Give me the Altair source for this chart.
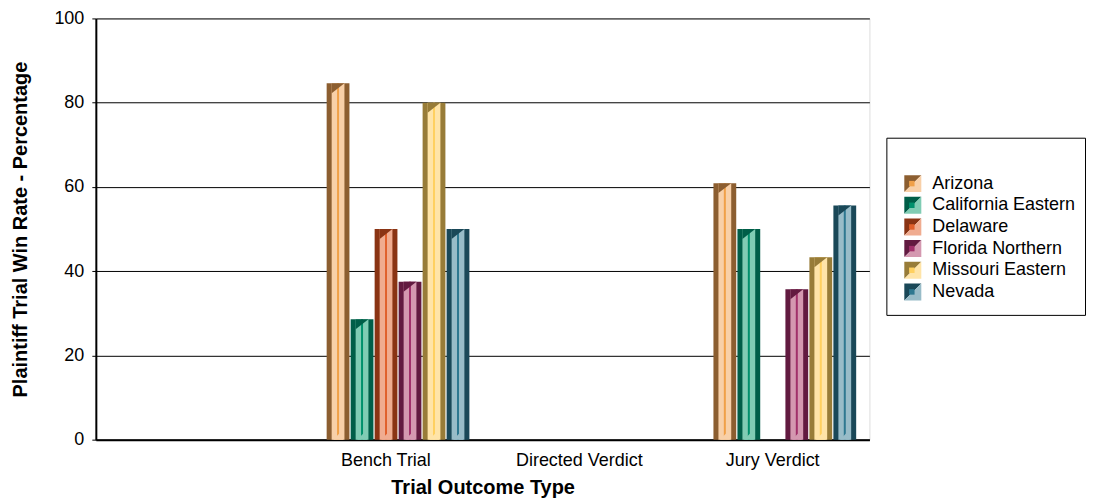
import altair as alt
import pandas as pd

categories = ["Bench Trial", "Directed Verdict", "Jury Verdict"]
axis_domain = [""] + categories
districts = ["Arizona", "California Eastern", "Delaware", "Florida Northern",
             "Missouri Eastern", "Nevada"]
bench_trial = [84.6, 28.6, 50.0, 37.5, 80.0, 50.0]
directed_verdict = [0, 0, 0, 0, 0, 0]
jury_verdict = [60.9, 50.0, 0, 35.7, 43.3, 55.6]
y_ticks = [0, 20, 40, 60, 80, 100]

dark_colors = ["#8C5E30", "#005E48", "#8A3414", "#621A40", "#987C38", "#1A4858"]
mid_colors = ["#F0A048", "#00906C", "#E0602C", "#A0306A", "#FFD060", "#2E7890"]
light_colors = ["#F8D0A8", "#80CCB4", "#F0AC90", "#D498B0", "#FFE4A8", "#98BCC8"]

series_by_cat = dict(zip(categories, [bench_trial, directed_verdict, jury_verdict]))
rows = []
for cat in categories:
    for i, d in enumerate(districts):
        v = series_by_cat[cat][i]
        if v > 0:
            rows.append({"category": cat, "district": d, "value": v,
                         "dark": dark_colors[i], "mid": mid_colors[i],
                         "light": light_colors[i]})
df = pd.DataFrame(rows)

FONT = "Liberation Sans"

x_enc = alt.X("category:N",
              scale=alt.Scale(domain=axis_domain, paddingInner=0, paddingOuter=0),
              axis=alt.Axis(title="Trial Outcome Type", labelAngle=0, ticks=False,
                            labelFontSize=18, labelPadding=12, labelColor="black",
                            titleFontSize=20, titleFontWeight="bold", titlePadding=8,
                            titleColor="black", domainColor="black", domainWidth=2,
                            grid=False, labelFont=FONT, titleFont=FONT))
xo_enc = alt.XOffset("district:N",
                     scale=alt.Scale(domain=districts, range=[37.5, 180.5],
                                     paddingInner=0.05, paddingOuter=0))
y_enc = alt.Y("value:Q", scale=alt.Scale(domain=[0, 100], nice=False),
              axis=alt.Axis(title="Plaintiff Trial Win Rate - Percentage",
                            values=y_ticks, labelFontSize=18, labelPadding=8,
                            labelColor="black", tickSize=4, tickColor="black",
                            titleFontSize=20, titleFontWeight="bold", titlePadding=23,
                            titleColor="black", domainColor="black", domainWidth=2,
                            grid=True, gridColor="black", gridWidth=1, gridOpacity=1,
                            labelFont=FONT, titleFont=FONT))

base = alt.Chart(df).encode(x=x_enc, xOffset=xo_enc, y=y_enc)

dark_bar = base.mark_bar().encode(fill=alt.Fill("dark:N", scale=None))
light_bar = base.mark_bar(width=12.8, xOffset=5).encode(fill=alt.Fill("light:N", scale=None))
mid_bar = base.mark_bar(width=2, xOffset=-0.4).encode(fill=alt.Fill("mid:N", scale=None))
top_tri = base.mark_point(shape="M -1 0 L 1 0 L -1 1.5625 Z", size=164, filled=True,
                          opacity=1, strokeWidth=0, xOffset=5).encode(
    fill=alt.Fill("dark:N", scale=None))
bot_tri = alt.Chart(df).mark_point(shape="M -1 0 L 1 0 L 1 -2 Z", size=100, filled=True,
                                   opacity=1, strokeWidth=0, xOffset=-6.4).encode(
    x=x_enc, xOffset=xo_enc, y=alt.datum(0), fill=alt.Fill("light:N", scale=None))

main = alt.layer(dark_bar, light_bar, mid_bar, top_tri, bot_tri).properties(
    width=775, height=422)

# legend
leg_df = pd.DataFrame({"district": districts, "dark": dark_colors,
                       "mid": mid_colors, "light": light_colors})
leg_y = alt.Y("district:N", scale=alt.Scale(type="point", domain=districts,
                                             range=[165.5, 274], padding=0), axis=None)
leg_base = alt.Chart(leg_df).encode(y=leg_y)
sym_dark = leg_base.mark_point(shape="M -1 -1 L 1 -1 L -1 1 Z", size=289, filled=True,
                               opacity=1, strokeWidth=0).encode(
    x=alt.value(26.5), fill=alt.Fill("dark:N", scale=None))
sym_light = leg_base.mark_point(shape="M 1 -1 L 1 1 L -1 1 Z", size=289, filled=True,
                                opacity=1, strokeWidth=0).encode(
    x=alt.value(26.5), fill=alt.Fill("light:N", scale=None))
sym_mid = leg_base.mark_square(size=30, opacity=1, strokeWidth=0).encode(
    x=alt.value(25.5), fill=alt.Fill("mid:N", scale=None))
leg_text = leg_base.mark_text(align="left", baseline="middle", fontSize=18, font=FONT,
                              color="black").encode(x=alt.value(46), text="district:N")
box = alt.Chart(pd.DataFrame({"k": [0]})).mark_rect(
    fill="transparent", stroke="black", strokeWidth=1).encode(
    x=alt.value(0.5), x2=alt.value(199.5), y=alt.value(120), y2=alt.value(297.5))

legend = alt.layer(box, sym_dark, sym_light, sym_mid, leg_text).properties(
    width=200, height=422, view=alt.ViewBackground(stroke="transparent"))

chart = alt.hconcat(main, legend, spacing=15).properties(
    padding={"left": 2, "top": 0, "right": 0, "bottom": 0}
).configure_view(stroke="black", strokeWidth=1).configure(font=FONT)

chart.save("out.html", embed_options={"renderer": "svg", "actions": False})
